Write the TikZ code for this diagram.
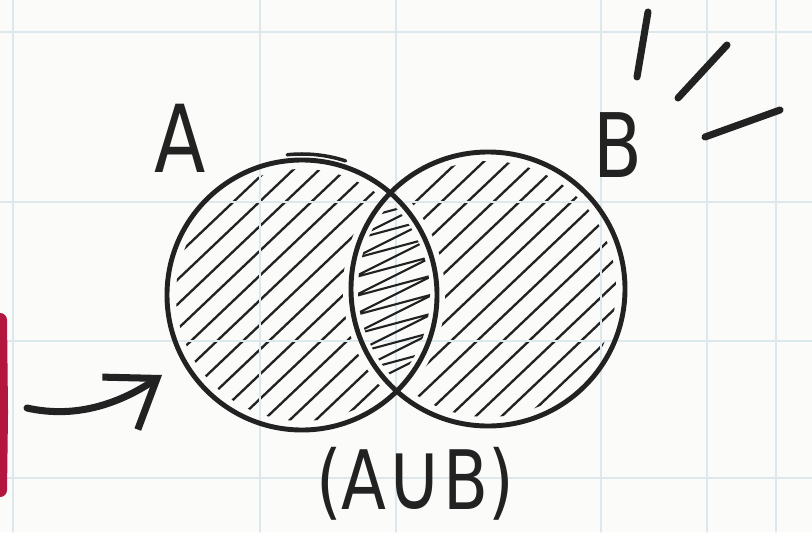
\documentclass[tikz,border=0pt]{standalone}
\usepackage{fontspec}
\newfontfamily\handfont[FakeStretch=0.8]{DejaVu Sans}
\usetikzlibrary{arrows.meta}

\definecolor{ink}{HTML}{222222}
\definecolor{gridblue}{HTML}{DCE8EC}
\definecolor{paper}{HTML}{FBFBF9}
\definecolor{marker}{HTML}{B3163F}

\tikzset{
  outline/.style={ink, line width=4.2pt},
  hatch/.style={ink, line width=2pt},
  zig/.style={ink, line width=1.8pt},
  ray/.style={ink, line width=6pt},
  lbl/.style={text=ink, inner sep=0pt, font=\handfont\fontsize{80}{80}\selectfont},
}

\begin{document}
\begin{tikzpicture}[x=0.3mm, y=0.3mm, line cap=round, line join=round]
  % paper
  \fill[paper] (0,0) rectangle (812,532);
  \useasboundingbox (0,0) rectangle (812,532);

  \coordinate (A) at (302,237);
  \coordinate (B) at (488,243);

  % hatching of both sets
  \begin{scope}
    \clip (A) circle (126);
    \foreach \c in {-150,-124,...,500}
      \draw[hatch] (\c,40) -- ++(400,380);
  \end{scope}
  \begin{scope}
    \clip (B) circle (128);
    \foreach \c in {-150,-124,...,500}
      \draw[hatch] (\c,40) -- ++(400,380);
  \end{scope}
  % clear the middle part again
  \begin{scope}
    \clip (A) circle (143);
    \fill[paper] (B) circle (145);
  \end{scope}

  % grid
  \foreach \gx in {13, 260, 396, 601, 707, 776}
    \draw[gridblue, line width=1.2pt] (\gx,0) -- (\gx,532);
  \foreach \gy in {54, 191, 330, 500}
    \draw[gridblue, line width=1.2pt] (0,\gy) -- (812,\gy);

  % scribble in A and B
  \begin{scope}
    \clip (A) circle (128);
    \clip (B) circle (130);
    \draw[zig] (352,330) \foreach \k in {0,...,9} { -- (434,{352-19*\k}) -- (352,{311-19*\k}) };
  \end{scope}

  % the two circles
  \draw[outline] (A) circle (135);
  \draw[ink, line width=3pt] (A) ++(96:141) arc[start angle=96, end angle=72, radius=141];
  \draw[outline] (B) circle (137);

  % labels
  \node[lbl] (labA) at (180,394) {A};
  \node[lbl, font=\handfont\fontsize{76}{76}\selectfont] (labB) at (618,387) {B};
  \node[lbl, font=\handfont\fontsize{70}{70}\selectfont] (labU) at (415,48)
    {(A{\fontsize{82}{82}\selectfont ∪}B)};

  % arrow into A
  \coordinate (arrS) at (27,124);
  \coordinate (arrE) at (162,157);
  \draw[ink, line width=6pt, -{Straight Barb[length=38pt, width=54pt]}]
    (arrS) .. controls (80,112) and (125,132) .. (arrE);

  % marks next to B
  \coordinate (r1a) at (648,520); \coordinate (r1b) at (637,455);
  \coordinate (r2a) at (727,487); \coordinate (r2b) at (678,434);
  \coordinate (r3a) at (780,422); \coordinate (r3b) at (705,395);
  \draw[ray] (r1a) -- (r1b);
  \draw[ray] (r2a) -- (r2b);
  \draw[ray] (r3a) -- (r3b);

  % red marker on the left edge
  \draw[marker, line width=12pt] (0,212) -- (1,120) -- (0,42);
\end{tikzpicture}
\end{document}
